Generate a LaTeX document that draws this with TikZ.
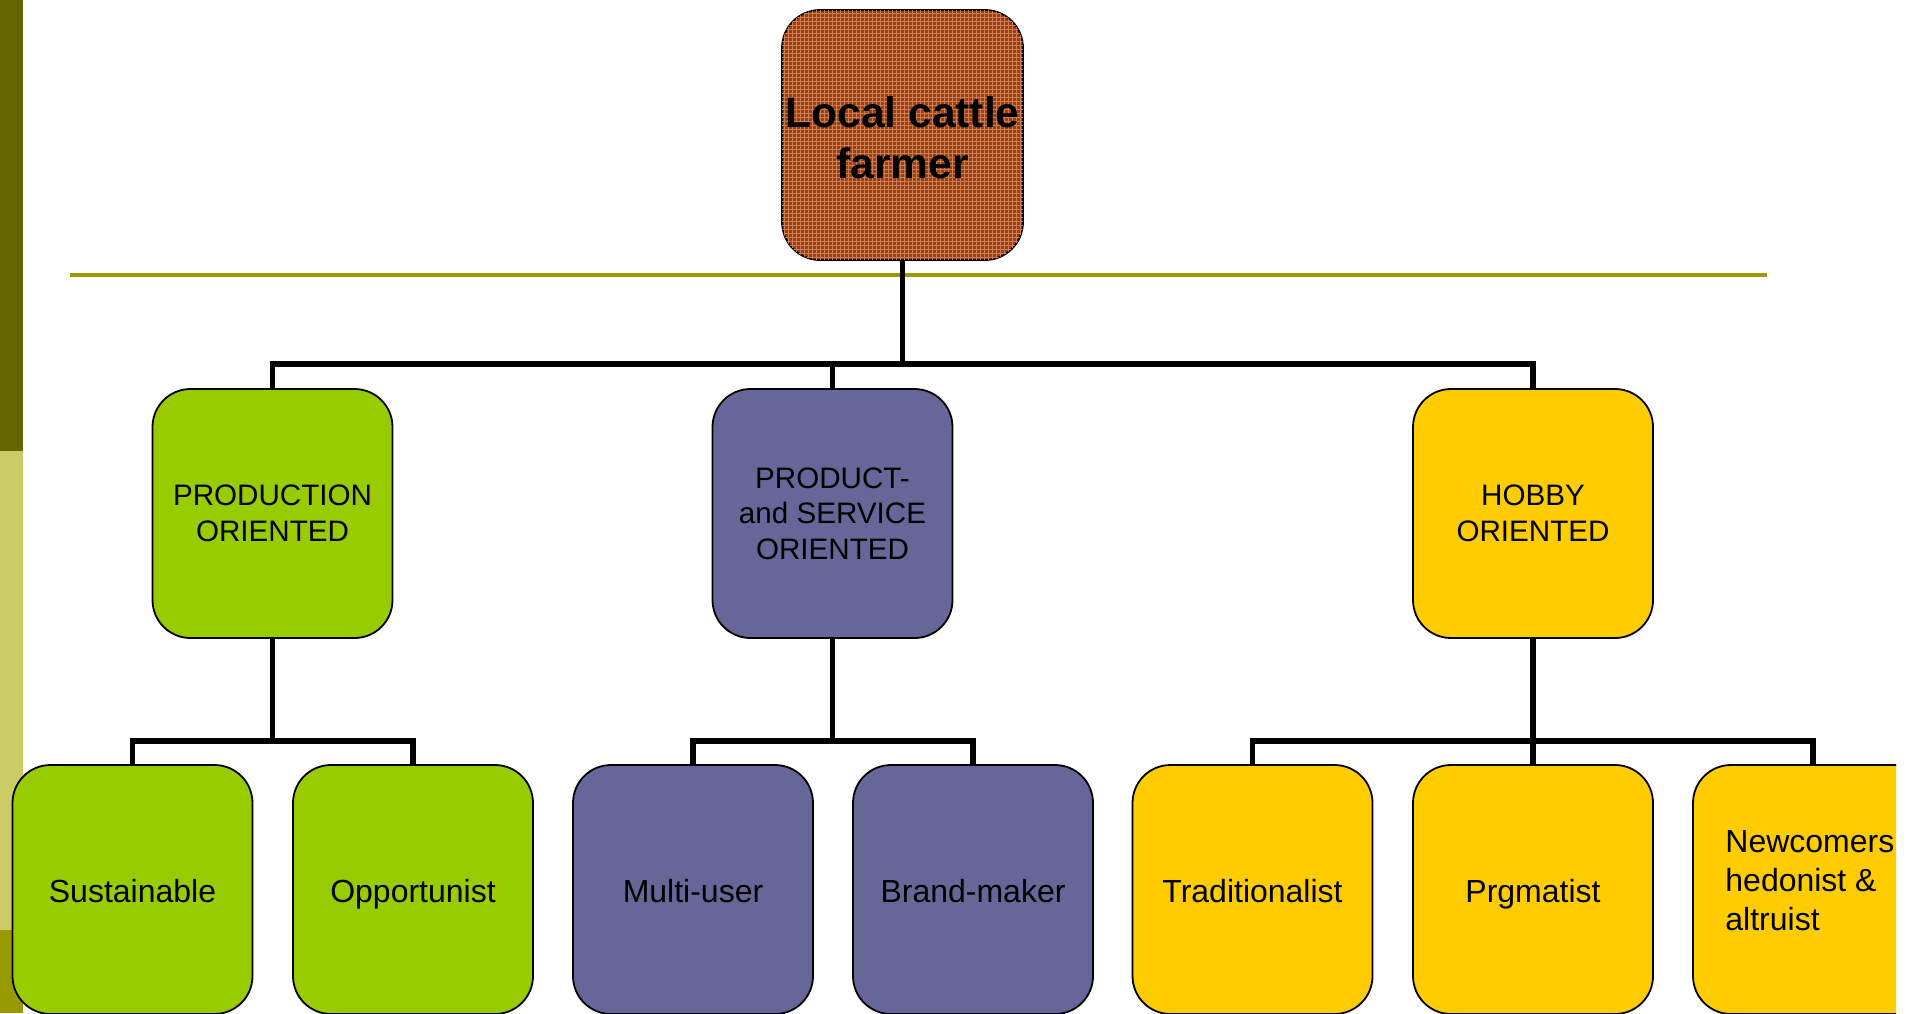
\documentclass[tikz,border=0pt]{standalone}
\usepackage{fontspec}
\setmainfont{Liberation Sans}
\usetikzlibrary{patterns.meta}
\definecolor{barDark}{HTML}{666600}
\definecolor{barLight}{HTML}{CCCC66}
\definecolor{barMid}{HTML}{999900}
\definecolor{rootFill}{HTML}{9E3E14}
\definecolor{rootGrid}{HTML}{C97D50}
\definecolor{prodGreen}{HTML}{99CC00}
\definecolor{servPurple}{HTML}{666699}
\definecolor{hobbyGold}{HTML}{FFCC00}
\tikzset{
  box/.style={draw=black, line width=0.9pt, rounded corners=19pt, inner sep=0pt,
    minimum width=120pt, minimum height=124.5pt, align=center},
  rootbox/.style={box, fill=rootFill, minimum width=120.5pt, minimum height=125pt,
    postaction={pattern={Lines[distance=2pt, angle=0, line width=0.3pt]}, pattern color=rootGrid},
    postaction={pattern={Lines[distance=2pt, angle=90, line width=0.3pt]}, pattern color=rootGrid}},
  roottext/.style={inner sep=0pt, align=center, font=\fontsize{21.3}{25.5}\selectfont\bfseries},
  midbox/.style={box, font=\fontsize{14.8}{17.8}\selectfont},
  leafbox/.style={box},
  leaftext/.style={inner sep=0pt, text height=11.5pt, text depth=3.5pt,
    font=\fontsize{16}{19.5}\selectfont},
  conn/.style={draw=black, line width=2.6pt},
}
\begin{document}
\begin{tikzpicture}[x=0.5pt, y=-0.5pt]
\useasboundingbox (0,0) rectangle (1916,1013);
\fill[white] (0,0) rectangle (1916,1013);
% side bar
\fill[barDark] (0,0) rectangle (23,451);
\fill[barLight] (0,451) rectangle (23,930);
\fill[barMid] (0,930) rectangle (23,1013);
% rule under the title box
\draw[barMid, line width=2pt] (70,275) -- (1767,275);

\begin{scope}
\clip (0,0) rectangle (1896,1013);
% root
\node[rootbox] (root) at (902.5,135) {};
\node[roottext] (rootText) at (902.5,138) {Local cattle\\farmer};
% second level
\node[midbox, fill=prodGreen] (prod) at (272.5,513.5) {PRODUCTION\\ORIENTED};
\node[midbox, fill=servPurple] (serv) at (832.5,513.5) {PRODUCT-\\and SERVICE\\ORIENTED};
\node[midbox, fill=hobbyGold] (hobby) at (1533,513.5) {HOBBY\\ORIENTED};
% leaves
\node[leafbox, fill=prodGreen] (sust) at (132.5,889.5) {};
\node[leafbox, fill=prodGreen] (opp) at (413,889.5) {};
\node[leafbox, fill=servPurple] (multi) at (693,889.5) {};
\node[leafbox, fill=servPurple] (brand) at (973,889.5) {};
\node[leafbox, fill=hobbyGold] (trad) at (1252.5,889.5) {};
\node[leafbox, fill=hobbyGold] (prag) at (1533,889.5) {};
\node[leafbox, fill=hobbyGold] (newc) at (1813,889.5) {};
% leaf labels, on a common baseline
\begin{scope}[every node/.style={leaftext}]
\node (sustText) at ([yshift=-2.5pt]sust.center) {Sustainable};
\node (oppText) at ([yshift=-2.5pt]opp.center) {Opportunist};
\node (multiText) at ([yshift=-2.5pt]multi.center) {Multi-user};
\node (brandText) at ([yshift=-2.5pt]brand.center) {Brand-maker};
\node (tradText) at ([yshift=-2.5pt]trad.center) {Traditionalist};
\node (pragText) at ([yshift=-2.5pt]prag.center) {Prgmatist};
\end{scope}
\node[anchor=west, inner sep=0pt, align=left, font=\fontsize{16}{19.5}\selectfont]
  (newcText) at (1725,881) {Newcomers\\hedonist \&\\altruist};

% connectors
\draw[conn] (root.south) -- ++(0,103) -| (prod.north);
\draw[conn] (root.south) -- ++(0,103) -| (serv.north);
\draw[conn] (root.south) -- ++(0,103) -| (hobby.north);
\draw[conn] (prod.south) -- ++(0,102) -| (sust.north);
\draw[conn] (prod.south) -- ++(0,102) -| (opp.north);
\draw[conn] (serv.south) -- ++(0,102) -| (multi.north);
\draw[conn] (serv.south) -- ++(0,102) -| (brand.north);
\draw[conn] (hobby.south) -- ++(0,102) -| (trad.north);
\draw[conn] (hobby.south) -- ++(0,102) -| (prag.north);
\draw[conn] (hobby.south) -- ++(0,102) -| (newc.north);
\end{scope}
\end{tikzpicture}
\end{document}
